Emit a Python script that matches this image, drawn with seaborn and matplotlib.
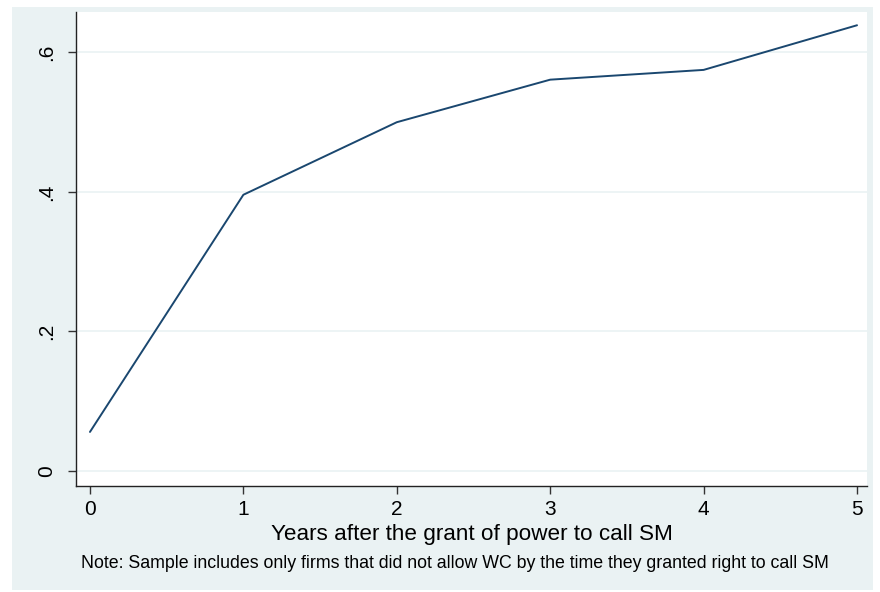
import matplotlib
matplotlib.use("Agg")
import matplotlib.pyplot as plt
import seaborn as sns
import pandas as pd
from matplotlib.patches import Rectangle

years = [0, 1, 2, 3, 4, 5]
share = [0.056, 0.396, 0.500, 0.561, 0.575, 0.639]
yticks = [0, 0.2, 0.4, 0.6]
yticklabels = ["0", ".2", ".4", ".6"]
xlabel = "Years after the grant of power to call SM"
note = "Note: Sample includes only firms that did not allow WC by the time they granted right to call SM"

sns.set_theme(style="white")
plt.rcParams['font.family'] = ['Liberation Sans', 'DejaVu Sans']

df = pd.DataFrame({"year": years, "share": share})

fig = plt.figure(figsize=(8.8, 5.92), dpi=100, facecolor="white")
W, H = 880, 592
bg = Rectangle((12 / W, 1 - 590 / H), (873 - 12) / W, (590 - 7) / H,
               transform=fig.transFigure, facecolor="#EAF2F3", edgecolor="none", zorder=-10)
fig.patches.append(bg)

ax = fig.add_axes([76 / W, 1 - 486 / H, (867 - 76) / W, (486 - 12) / H])
ax.set_zorder(5)
ax.set_facecolor("white")
sns.lineplot(data=df, x="year", y="share", ax=ax, color="#1a476f", linewidth=1.4)

ax.set_xlim(-0.091, 5.065)
ax.set_ylim(-0.0215, 0.658)
ax.set_yticks(yticks)
ax.set_yticklabels(yticklabels, rotation=90, va="center", fontsize=15)
ax.set_xticks(years)
ax.set_xticklabels([str(y) for y in years], fontsize=15)
ax.yaxis.grid(True, color="#EAF2F3", linewidth=1.2)
ax.xaxis.grid(False)
for s in ["top", "right"]:
    ax.spines[s].set_visible(False)
for s in ["left", "bottom"]:
    ax.spines[s].set_color("#222222")
    ax.spines[s].set_linewidth(1.0)
ax.tick_params(axis="both", which="both", direction="out", length=6, width=1,
               color="#333333", labelcolor="black", bottom=True, left=True)
ax.tick_params(axis="y", pad=8)
ax.tick_params(axis="x", pad=4)
ax.set_xlabel(xlabel, fontsize=16.2, labelpad=4, color="black")
ax.set_ylabel("")

fig.text((80 + 830) / 2 / W, 1 - 563 / H, note, ha="center", va="center", fontsize=12.8, color="black")

fig.savefig("out.png", dpi=100, facecolor="white")
